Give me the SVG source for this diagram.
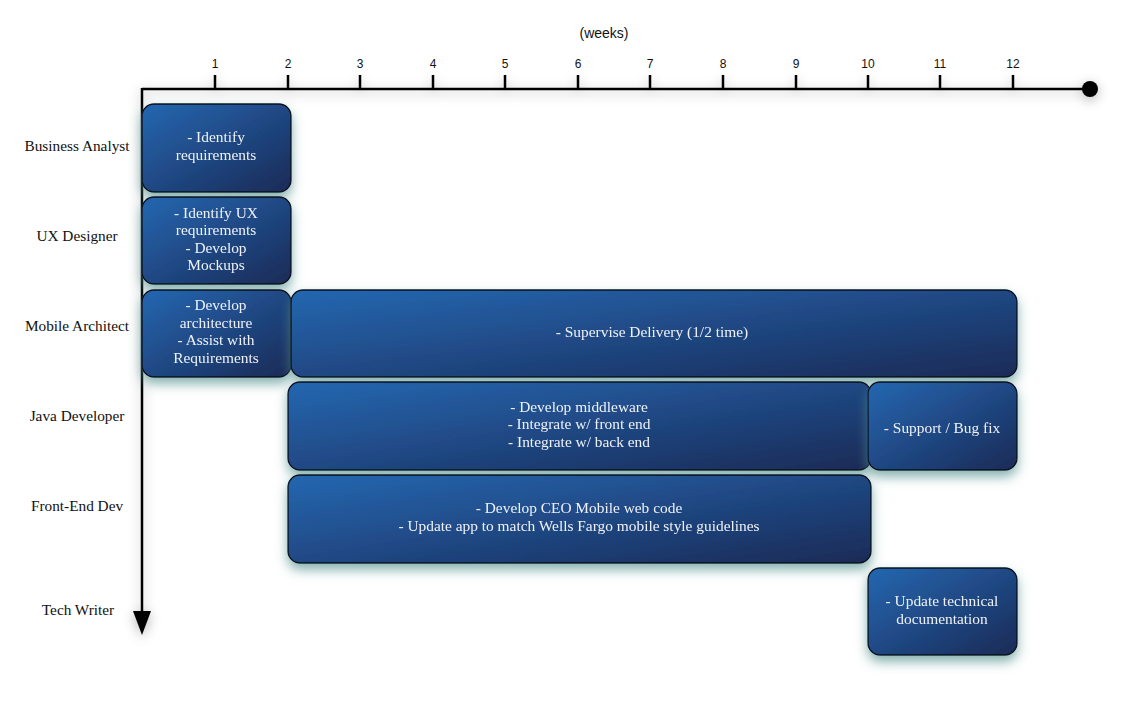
<svg xmlns="http://www.w3.org/2000/svg" width="1145" height="715" viewBox="0 0 1145 715">
<defs>
<linearGradient id="g" x1="0" y1="0" x2="1" y2="1">
<stop offset="0" stop-color="#2467b1"/>
<stop offset="1" stop-color="#1b2a56"/>
</linearGradient>
<filter id="bs" x="-20%" y="-25%" width="140%" height="160%">
<feGaussianBlur in="SourceAlpha" stdDeviation="6"/>
<feOffset dy="6" result="b"/>
<feFlood flood-color="#4f8e8c" flood-opacity="0.7"/>
<feComposite in2="b" operator="in"/>
<feMerge><feMergeNode/><feMergeNode in="SourceGraphic"/></feMerge>
</filter>
<filter id="as" x="-10%" y="-200%" width="120%" height="500%">
<feGaussianBlur in="SourceAlpha" stdDeviation="6"/>
<feOffset dy="3" result="b"/>
<feFlood flood-color="#000" flood-opacity="0.3"/>
<feComposite in2="b" operator="in"/>
<feMerge><feMergeNode/><feMergeNode in="SourceGraphic"/></feMerge>
</filter>
<style>
.box{fill:url(#g);stroke:#0a0f1c;stroke-width:1.3}
.bt{font-family:"Liberation Serif","DejaVu Serif",serif;font-size:15.4px;fill:#eef2f8;text-anchor:middle}
.lab{font-family:"Liberation Serif","DejaVu Serif",serif;font-size:15.3px;fill:#111;text-anchor:middle}
.ax{font-family:"Liberation Sans",Arial,sans-serif;font-size:12px;fill:#111;text-anchor:middle}
.axl{stroke:#000;stroke-width:2.5;fill:none}
</style>
</defs>
<rect width="1145" height="715" fill="#fff"/>

<g id="axes" filter="url(#as)">
<line class="axl" x1="142" y1="89" x2="1090" y2="89"/>
<line class="axl" x1="142" y1="88" x2="142" y2="615"/>
<g class="axl">
<line x1="215" y1="75" x2="215" y2="89"/>
<line x1="288" y1="75" x2="288" y2="89"/>
<line x1="360" y1="75" x2="360" y2="89"/>
<line x1="433" y1="75" x2="433" y2="89"/>
<line x1="505" y1="75" x2="505" y2="89"/>
<line x1="578" y1="75" x2="578" y2="89"/>
<line x1="650" y1="75" x2="650" y2="89"/>
<line x1="723" y1="75" x2="723" y2="89"/>
<line x1="796" y1="75" x2="796" y2="89"/>
<line x1="868" y1="75" x2="868" y2="89"/>
<line x1="940" y1="75" x2="940" y2="89"/>
<line x1="1013" y1="75" x2="1013" y2="89"/>
</g>
<circle cx="1090" cy="89" r="8" fill="#000"/>
<polygon points="133,611 151,611 142,635" fill="#000"/>
</g>
<g id="axis-labels">
<text class="ax" x="604" y="38" style="font-size:14px">(weeks)</text>
<text class="ax" x="215" y="68">1</text>
<text class="ax" x="288" y="68">2</text>
<text class="ax" x="360" y="68">3</text>
<text class="ax" x="433" y="68">4</text>
<text class="ax" x="505" y="68">5</text>
<text class="ax" x="578" y="68">6</text>
<text class="ax" x="650" y="68">7</text>
<text class="ax" x="723" y="68">8</text>
<text class="ax" x="796" y="68">9</text>
<text class="ax" x="868" y="68">10</text>
<text class="ax" x="940" y="68">11</text>
<text class="ax" x="1013" y="68">12</text>
</g>
<g id="roles">
<text class="lab" x="77" y="151">Business Analyst</text>
<text class="lab" x="77" y="241">UX Designer</text>
<text class="lab" x="77" y="331">Mobile Architect</text>
<text class="lab" x="77" y="421">Java Developer</text>
<text class="lab" x="77" y="511">Front-End Dev</text>
<text class="lab" x="78" y="615">Tech Writer</text>
</g>

<g id="ba" filter="url(#bs)">
<rect class="box" x="142" y="104" width="149" height="88" rx="12"/>
<text class="bt" x="216" y="142">- Identify</text>
<text class="bt" x="216" y="160">requirements</text>
</g>
<g id="ux" filter="url(#bs)">
<rect class="box" x="142" y="197" width="149" height="87" rx="12"/>
<text class="bt" x="216" y="218">- Identify UX</text>
<text class="bt" x="216" y="235">requirements</text>
<text class="bt" x="216" y="253">- Develop</text>
<text class="bt" x="216" y="270">Mockups</text>
</g>
<g id="ma1" filter="url(#bs)">
<rect class="box" x="142" y="290" width="149" height="87" rx="12"/>
<text class="bt" x="216" y="310">- Develop</text>
<text class="bt" x="216" y="328">architecture</text>
<text class="bt" x="216" y="345">- Assist with</text>
<text class="bt" x="216" y="363">Requirements</text>
</g>
<g id="ma2" filter="url(#bs)">
<rect class="box" x="291" y="290" width="726" height="87" rx="12"/>
<text class="bt" x="652" y="337">- Supervise Delivery (1/2 time)</text>
</g>
<g id="java1" filter="url(#bs)">
<rect class="box" x="288" y="382" width="583" height="88" rx="12"/>
<text class="bt" x="579" y="412">- Develop middleware</text>
<text class="bt" x="579" y="429">- Integrate w/ front end</text>
<text class="bt" x="579" y="447">- Integrate w/ back end</text>
</g>
<g id="java2" filter="url(#bs)">
<rect class="box" x="868" y="382" width="149" height="88" rx="12"/>
<text class="bt" x="942" y="433">-  Support / Bug fix</text>
</g>
<g id="fe" filter="url(#bs)">
<rect class="box" x="288" y="475" width="583" height="88" rx="12"/>
<text class="bt" x="579" y="513">- Develop CEO Mobile web code</text>
<text class="bt" x="579" y="531">- Update app to match Wells Fargo mobile style guidelines</text>
</g>
<g id="tw" filter="url(#bs)">
<rect class="box" x="868" y="568" width="149" height="87" rx="12"/>
<text class="bt" x="942" y="606">- Update technical</text>
<text class="bt" x="942" y="624">documentation</text>
</g>
</svg>
